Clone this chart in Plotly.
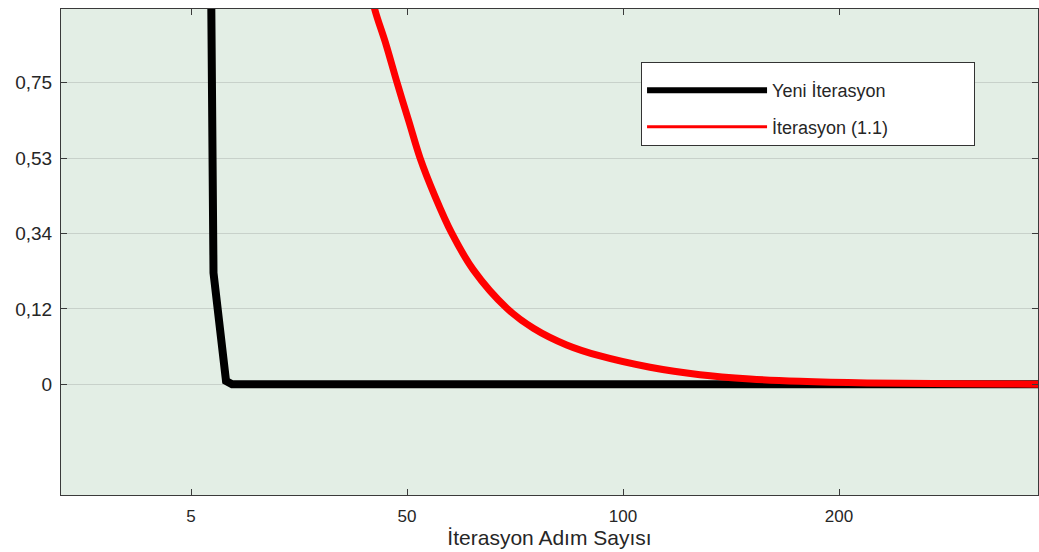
import plotly.graph_objects as go

# Axis ticks (equally spaced positions with custom labels, as in the reference)
x_tick_pos = [1, 2, 3, 4]
x_tick_labels = ["5", "50", "100", "200"]
y_tick_pos = [0, 1, 2, 3, 4]
y_tick_labels = ["0", "0,12", "0,34", "0,53", "0,75"]

# Series: "Yeni İterasyon" (black)
yeni_x = [1.093, 1.0995, 1.104, 1.162, 1.190, 4.926]
yeni_y = [5.30, 3.00, 1.478, 0.044, 0.0, 0.0]

# Series: "İterasyon (1.1)" (red)
iter_x = [1.835, 1.847, 1.903, 1.954, 2.009, 2.060, 2.130, 2.207, 2.307, 2.462, 2.585,
          2.739, 2.894, 3.125, 3.356, 3.588, 3.819, 4.130, 4.435, 4.745, 4.926]
iter_y = [5.25, 5.015, 4.506, 4.001, 3.483, 3.005, 2.491, 2.005, 1.518, 1.009, 0.744,
          0.522, 0.375, 0.225, 0.126, 0.070, 0.040, 0.018, 0.009, 0.004, 0.001]

series_names = ["Yeni İterasyon", "İterasyon (1.1)"]

FONT = "Liberation Sans, Arial, Helvetica, sans-serif"
AX = "#3a3a3a"
TXT = "#262626"
PAD = "\u00a0" * 16  # widens the legend box like the reference

fig = go.Figure()
fig.add_trace(go.Scatter(x=yeni_x, y=yeni_y, mode="lines", name=series_names[0],
                         line=dict(color="black", width=8), showlegend=False))
fig.add_trace(go.Scatter(x=iter_x, y=iter_y, mode="lines", name=series_names[1],
                         line=dict(color="#ff0000", width=7, shape="spline", smoothing=1.0),
                         showlegend=False))
# legend entries (sample line widths as shown in the reference legend)
fig.add_trace(go.Scatter(x=[None], y=[None], mode="lines", name=series_names[0] + PAD,
                         line=dict(color="black", width=6), legendgroup="a"))
fig.add_trace(go.Scatter(x=[None], y=[None], mode="lines", name=series_names[1] + PAD,
                         line=dict(color="#ff0000", width=3), legendgroup="b"))

common = dict(
    ticks="inside", ticklen=6, tickcolor=AX, showline=True, linecolor=AX, linewidth=1,
    mirror="ticks", zeroline=False,
)

fig.update_layout(
    width=1039, height=552,
    margin=dict(l=61, r=1, t=9, b=57),
    paper_bgcolor="white", plot_bgcolor="#E3EEE5",
    font=dict(family=FONT, color=TXT),
    xaxis=dict(range=[0.398, 4.921], tickvals=x_tick_pos, ticktext=x_tick_labels,
               showgrid=False, ticklabelstandoff=6,
               tickfont=dict(family=FONT, size=17, color=TXT),
               title=dict(text="İterasyon Adım Sayısı", font=dict(family=FONT, size=21, color=TXT),
                          standoff=4),
               **common),
    yaxis=dict(range=[-1.47, 4.98], tickvals=y_tick_pos, ticktext=y_tick_labels,
               showgrid=True, gridcolor="#C8D1CA", gridwidth=1, ticklabelstandoff=4,
               tickfont=dict(family=FONT, size=19, color=TXT),
               **common),
    legend=dict(x=0.5937, y=0.891, xanchor="left", yanchor="top",
                bgcolor="white", bordercolor="#333333", borderwidth=1,
                font=dict(family=FONT, size=18, color=TXT),
                title=dict(text="\u00a0", font=dict(size=7)),
                itemwidth=120, traceorder="grouped", tracegroupgap=10),
)

fig.write_html("out.html", config={"displayModeBar": False},
               post_script="document.body.style.margin='0';document.body.style.padding='0';"
                           "document.documentElement.style.overflow='hidden';")
